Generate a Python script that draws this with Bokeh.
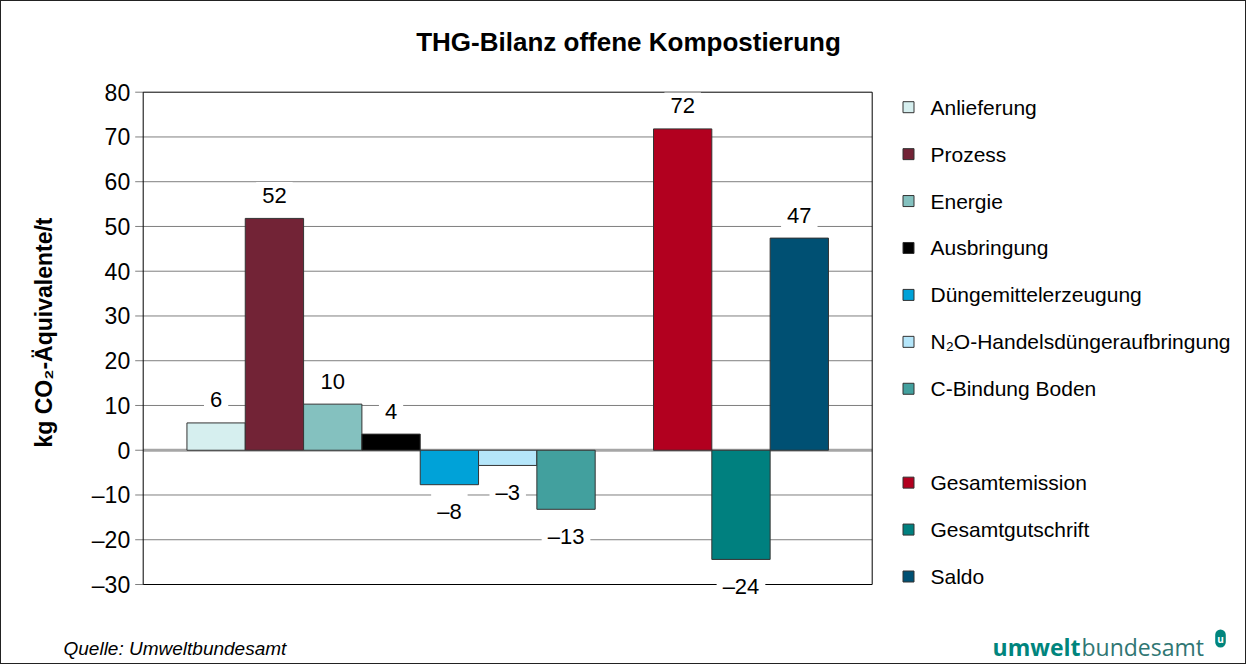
import math
from bokeh.plotting import figure
from bokeh.models import ColumnDataSource, Label, Range1d
from bokeh.core.properties import value
from bokeh.embed import file_html
from bokeh.resources import INLINE

# ---------------- data ----------------
categories = ["Anlieferung", "Prozess", "Energie", "Ausbringung",
              "Düngemittelerzeugung", "N₂O-Handelsdüngeraufbringung",
              "C-Bindung Boden"]
values = [6.1, 51.8, 10.3, 3.6, -7.7, -3.4, -13.2]
colors = ["#D6EFEF", "#722336", "#84C1BF", "#000000",
          "#00A2D8", "#B5E6FA", "#42A09E"]

total_categories = ["Gesamtemission", "Gesamtgutschrift", "Saldo"]
total_values = [71.8, -24.4, 47.4]
total_colors = ["#B2001F", "#00807F", "#005073"]

y_ticks = [-30, -20, -10, 0, 10, 20, 30, 40, 50, 60, 70, 80]

title_text = "THG-Bilanz offene Kompostierung"
y_label = "kg CO₂-Äquivalente/t"
source_text = "Quelle: Umweltbundesamt"

FONT = "Liberation Sans"


def dash(v):
    return f"{round(v):d}".replace("-", "–")


# ---------------- layout (canvas pixels) ----------------
W, H = 1246, 664
N_SLOTS = 12.5                      # width of the chart box in bar widths
BOX_L, BOX_R = 141.7, 870.7         # chart box, canvas px
BOX_T, BOX_B = 90.7, 583.0
PX_X = (BOX_R - BOX_L) / N_SLOTS
PX_Y = (BOX_B - BOX_T) / (y_ticks[-1] - y_ticks[0])


def dx(px):
    return (px - BOX_L) / PX_X


def dy(py):
    return y_ticks[-1] - (py - BOX_T) / PX_Y


p = figure(width=W, height=H, output_backend="svg", toolbar_location=None,
           x_range=Range1d(dx(0), dx(W)), y_range=Range1d(dy(H), dy(0)),
           x_axis_location=None, y_axis_location=None,
           min_border=0, min_border_left=0, min_border_right=0,
           min_border_top=0, min_border_bottom=0)
p.styles = {"border": "1px solid #222222"}
p.background_fill_color = "white"
p.border_fill_color = "white"
p.outline_line_color = None
p.grid.visible = False

# ---------------- grid, ticks, tick labels ----------------
inner = [t for t in y_ticks if t not in (0, y_ticks[0], y_ticks[-1])]
p.segment(x0=0, x1=N_SLOTS, y0=inner, y1=inner,
          line_color="#7f7f7f", line_width=1)
p.segment(x0=[0], x1=[N_SLOTS], y0=[0], y1=[0],
          line_color="#a6a6a6", line_width=3)
p.segment(x0=dx(BOX_L - 8), x1=0, y0=y_ticks, y1=y_ticks,
          line_color="#7f7f7f", line_width=1)
p.text(x=0, y=y_ticks, text=[dash(t) for t in y_ticks], x_offset=-13,
       text_align="right", text_baseline="middle", text_font=value(FONT),
       text_font_size="23px", text_color="black")

# ---------------- bars ----------------
src1 = ColumnDataSource(dict(
    x=[1.25 + i for i in range(len(categories))],
    top=values, color=colors))
src2 = ColumnDataSource(dict(
    x=[9.25 + i for i in range(len(total_categories))],
    top=total_values, color=total_colors))

for s in (src1, src2):
    p.vbar(x="x", top="top", bottom=0, width=1.0, source=s,
           fill_color="color", line_color="#333333", line_width=1)

# chart box
p.quad(left=[0], right=[N_SLOTS], bottom=[y_ticks[0]], top=[y_ticks[-1]],
       fill_alpha=0, line_color="black", line_width=1)

# value labels
for xs, vs in ((src1.data["x"], values), (src2.data["x"], total_values)):
    for x, v in zip(xs, vs):
        p.add_layout(Label(x=x, y=v, y_offset=23 if v > 0 else -27,
                           text=dash(v), text_align="center",
                           text_baseline="middle", text_font=FONT,
                           text_font_size="22px", text_color="black",
                           background_fill_color="white", padding=6))

# y axis label
p.text(x=[dx(42)], y=[dy(331)], text=[y_label], angle=math.pi / 2,
       text_align="center", text_baseline="middle", text_font=value(FONT),
       text_font_size="23px", text_font_style="bold", text_color="black")

# ---------------- legend ----------------
leg_names = categories + [""] + total_categories
leg_colors = colors + [None] + total_colors
PITCH = 46.93
leg_y = [dy(105.7 + k * PITCH) for k in range(len(leg_names))]
keep = [k for k, n in enumerate(leg_names) if n]
p.scatter(x=[dx(907)] * len(keep), y=[leg_y[k] for k in keep],
          marker="square", size=11,
          fill_color=[leg_colors[k] for k in keep],
          line_color="#333333", line_width=1)
p.text(x=[dx(929)] * len(keep), y=[leg_y[k] for k in keep],
       text=[leg_names[k] for k in keep], text_align="left",
       text_baseline="middle", text_font=value(FONT),
       text_font_size="21px", text_color="black")

# ---------------- title & footer ----------------
p.text(x=[dx(627)], y=[dy(40)], text=[title_text], text_align="center",
       text_baseline="middle", text_font=value(FONT), text_font_size="26px",
       text_font_style="bold", text_color="black")
p.text(x=[dx(62)], y=[dy(647)], text=[source_text], text_align="left",
       text_baseline="middle", text_font=value(FONT),
       text_font_size="19px", text_font_style="italic", text_color="black")
p.text(x=[dx(1079)], y=[dy(645)], text=["umwelt"], text_align="right",
       text_baseline="middle", text_font=value("Open Sans"),
       text_font_size="23px", text_font_style="bold", text_color="#00857D")
p.text(x=[dx(1080)], y=[dy(645)], text=["bundesamt"], text_align="left",
       text_baseline="middle", text_font=value("Open Sans"),
       text_font_size="23px", text_color="#2f7673")
p.add_layout(Label(x=dx(1219), y=dy(637), text="u", text_align="center",
                   text_baseline="middle", text_font="Open Sans",
                   text_font_size="10px", text_font_style="bold",
                   text_color="white", background_fill_color="#00857D",
                   border_radius=7, padding=2))

open("out.html", "w").write(file_html(p, INLINE))
